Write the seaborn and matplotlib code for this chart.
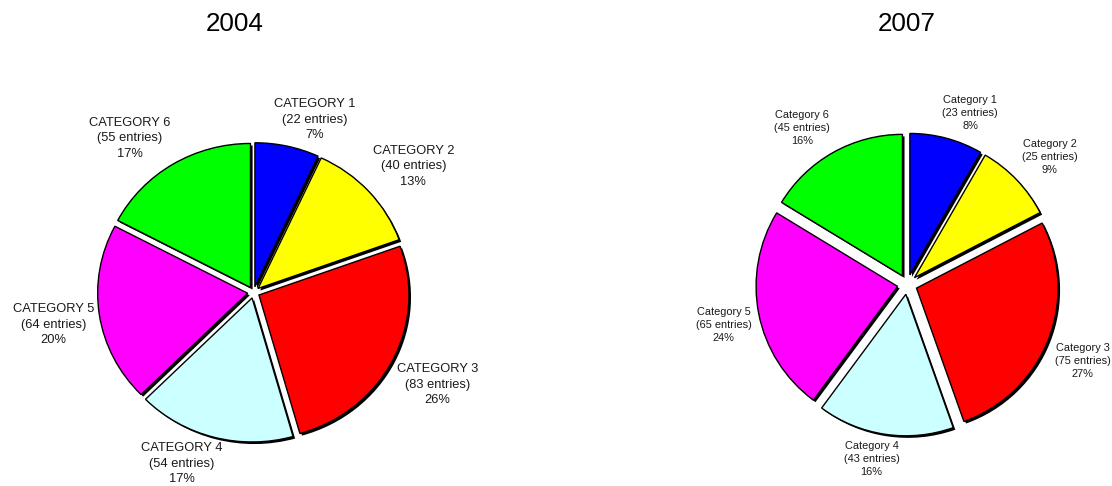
import numpy as np
import matplotlib
matplotlib.use("Agg")
import matplotlib.pyplot as plt
import matplotlib.patheffects as pe
from matplotlib.transforms import offset_copy
import seaborn as sns

sns.set_theme(style="white")
plt.rcParams['font.family'] = ['Liberation Sans', 'DejaVu Sans']

# ---- data ----
years = ["2004", "2007"]
labels_2004 = ["CATEGORY 1", "CATEGORY 2", "CATEGORY 3", "CATEGORY 4", "CATEGORY 5", "CATEGORY 6"]
labels_2007 = ["Category 1", "Category 2", "Category 3", "Category 4", "Category 5", "Category 6"]
counts_2004 = [22, 40, 83, 54, 64, 55]
counts_2007 = [23, 25, 75, 43, 65, 45]
colors = ["#0000FF", "#FFFF00", "#FF0000", "#CCFFFF", "#FF00FF", "#00FF00"]

# ---- layout (pixels) ----
W, H, DPI = 1112, 486, 100
fig = plt.figure(figsize=(W / DPI, H / DPI), dpi=DPI)
fig.patch.set_facecolor("white")

panels = [
    dict(year=years[0], names=labels_2004, counts=counts_2004,
         cx=253.6, cy=292.4, rx=150.0, ry=144.0, explode=0.04, ldist=1.075,
         fs=9.3, tx=235, ty=24),
    dict(year=years[1], names=labels_2007, counts=counts_2007,
         cx=907.3, cy=284.5, rx=141.5, ry=141.5, explode=0.07, ldist=1.12,
         fs=7.9, tx=906.5, ty=24),
]

L = 1.6
texts_all = []
for p in panels:
    left = (p["cx"] - L * p["rx"]) / W
    bottom = ((H - p["cy"]) - L * p["ry"]) / H
    ax = fig.add_axes([left, bottom, 2 * L * p["rx"] / W, 2 * L * p["ry"] / H])
    vals = np.array(p["counts"], dtype=float)
    wedges, _ = ax.pie(vals, colors=colors, startangle=90, counterclock=False,
                       explode=[p["explode"]] * len(vals),
                       wedgeprops=dict(edgecolor="black", linewidth=1.0))
    for w in wedges:
        w.set_path_effects([pe.SimplePatchShadow(offset=(1.5, -1.5), shadow_rgbFace="black", alpha=1.0),
                            pe.Normal()])
    ax.set_aspect("auto")
    ax.set_xlim(-L, L)
    ax.set_ylim(-L, L)
    ax.axis("off")
    total = vals.sum()
    for w, name, c in zip(wedges, p["names"], p["counts"]):
        th = np.deg2rad((w.theta1 + w.theta2) / 2)
        lab = f"{name}\n({c} entries)\n{c / total:.0%}"
        t = ax.text(p["ldist"] * np.cos(th), p["ldist"] * np.sin(th), lab,
                    ha="center", va="center", multialignment="center",
                    fontsize=p["fs"], color="#1a1a1a", linespacing=1.38, clip_on=False)
        texts_all.append((ax, t, th))
    fig.text(p["tx"] / W, 1 - p["ty"] / H, p["year"], ha="center", va="center",
             fontsize=18.7, color="black")

fig.canvas.draw()
r = fig.canvas.get_renderer()
for ax, t, th in texts_all:
    bb = t.get_window_extent(renderer=r)
    dx = bb.width / 2 * np.clip(3 * np.cos(th), -1, 1)
    dy = bb.height / 2 * np.clip(3 * np.sin(th), -1, 1)
    t.set_transform(offset_copy(ax.transData, fig=fig, x=dx, y=dy, units="dots"))

fig.savefig("out.png", dpi=DPI, facecolor="white")
